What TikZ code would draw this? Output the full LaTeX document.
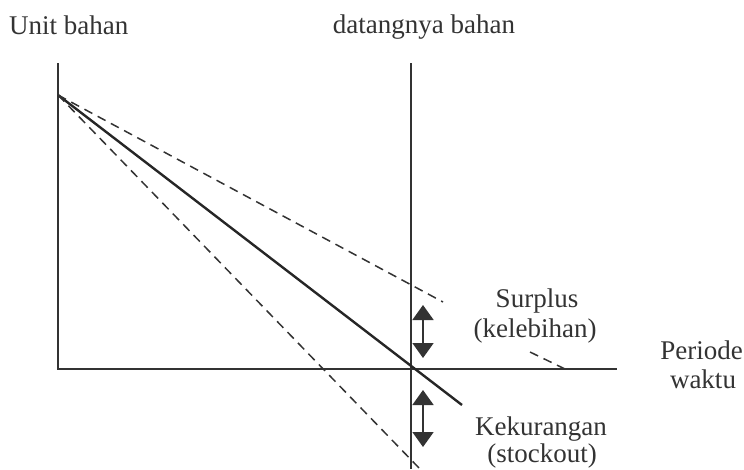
\documentclass[tikz,border=0pt]{standalone}
\usepackage{fontspec}
\setmainfont{Liberation Serif}
\usetikzlibrary{arrows.meta}
\begin{document}
\begin{tikzpicture}[x=1pt,y=-1pt,
  axis/.style={line width=1.4pt,draw=black!80},
  usage/.style={line width=2.4pt,draw=black!85},
  dashline/.style={line width=1.5pt,draw=black!80,dash pattern=on 9pt off 6pt},
  dbl/.style={line width=1.8pt,draw=black!80,{Triangle[width=21pt,length=15pt]}-{Triangle[width=21pt,length=15pt]}},
  lbl/.style={font=\fontsize{27}{30}\selectfont,text=black!80,inner sep=0pt,anchor=base}]
\useasboundingbox (0,0) rectangle (744,469);
% coordinates
\coordinate (top) at (58,63);
\coordinate (O) at (58,369);
\coordinate (xend) at (617,369);
\coordinate (S) at (58,95);
\coordinate (vtop) at (411,63);
\coordinate (vbot) at (411,469);
\coordinate (solidend) at (462,405);
\coordinate (upA) at (443,302);
\coordinate (upB) at (530,352);
\coordinate (upC) at (565,369);
\coordinate (lowend) at (420,469);
\coordinate (a1t) at (423,305);
\coordinate (a1b) at (423,358);
\coordinate (a2t) at (423,390);
\coordinate (a2b) at (423,447);
% axes
\draw[axis] (top) -- (O) -- (xend);
\draw[axis] (vtop) -- (vbot);
% lines
\draw[usage] (S) -- (solidend);
\draw[dashline] (S) -- (upA);
\draw[dashline] (upB) -- (upC);
\draw[dashline] (S) -- (lowend);
% arrows
\draw[dbl] (a1t) -- (a1b);
\draw[dbl] (a2t) -- (a2b);
% labels
\node[lbl,anchor=base west] (ylab) at (9,34) {Unit bahan};
\node[lbl] (dlab) at (424,33) {datangnya bahan};
\node[lbl] (s1) at (537,307) {Surplus};
\node[lbl] (s2) at (535,337) {(kelebihan)};
\node[lbl,anchor=base east] (p1) at (743,359) {Periode};
\node[lbl] (p2) at (703,388) {waktu};
\node[lbl] (k1) at (541,435) {Kekurangan};
\node[lbl] (k2) at (542,462) {(stockout)};
\end{tikzpicture}
\end{document}
